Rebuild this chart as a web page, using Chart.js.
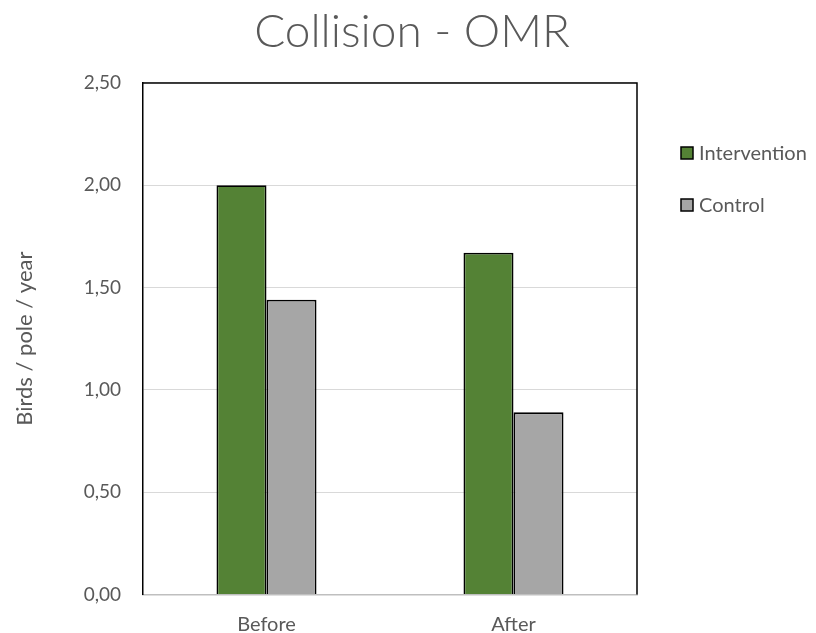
<!DOCTYPE html>
<html>
<head>
<meta charset="utf-8">
<script src="https://cdn.jsdelivr.net/npm/chart.js@4/dist/chart.umd.min.js"></script>
<style>
  html, body { margin: 0; padding: 0; background: #ffffff; }
  #wrap { width: 816px; height: 633px; }
</style>
</head>
<body>
<div id="wrap"><canvas id="chart" width="816" height="633"></canvas></div>
<script>
// Collision rates per pole and year, before and after the intervention
const categories = ['Before', 'After'];
const seriesNames = ['Intervention', 'Control'];
const interventionValues = [2.00, 1.67];
const controlValues = [1.44, 0.89];
const yTickValues = [0, 0.5, 1.0, 1.5, 2.0, 2.5];

const TEXT = '#595959';
const FONT = 'Lato';

// Legend drawn to the right of the plot area
const sideLegend = {
  id: 'sideLegend',
  afterDraw(chart) {
    const ctx = chart.ctx;
    const boxX = 681, textX = 699, firstY = 153, gap = 52, box = 12;
    ctx.save();
    ctx.font = '20px ' + FONT;
    ctx.textBaseline = 'middle';
    ctx.textAlign = 'left';
    chart.data.datasets.forEach((ds, i) => {
      const cy = firstY + i * gap;
      ctx.fillStyle = ds.backgroundColor;
      ctx.fillRect(boxX, cy - box / 2, box, box);
      ctx.strokeStyle = '#000000';
      ctx.lineWidth = 1.5;
      ctx.strokeRect(boxX, cy - box / 2, box, box);
      ctx.fillStyle = TEXT;
      ctx.fillText(ds.label, textX, cy + 1);
    });
    ctx.restore();
  }
};

// Black frame on the top and right edges of the plot area
const plotFrame = {
  id: 'plotFrame',
  afterDatasetsDraw(chart) {
    const { ctx, chartArea: a } = chart;
    ctx.save();
    ctx.strokeStyle = '#000000';
    ctx.lineWidth = 1.5;
    ctx.beginPath();
    ctx.moveTo(a.left, a.top);
    ctx.lineTo(a.right, a.top);
    ctx.lineTo(a.right, a.bottom);
    ctx.stroke();
    ctx.restore();
  }
};

new Chart(document.getElementById('chart'), {
  type: 'bar',
  data: {
    labels: categories,
    datasets: [
      {
        label: seriesNames[0],
        data: interventionValues,
        backgroundColor: '#548235',
        borderColor: '#000000',
        borderWidth: 1.8,
        categoryPercentage: 0.405,
        barPercentage: 1.0
      },
      {
        label: seriesNames[1],
        data: controlValues,
        backgroundColor: '#a6a6a6',
        borderColor: '#000000',
        borderWidth: 1.8,
        categoryPercentage: 0.405,
        barPercentage: 1.0
      }
    ]
  },
  options: {
    responsive: false,
    animation: false,
    devicePixelRatio: 1,
    layout: { padding: { left: 8, right: 0, top: 0, bottom: 0 } },
    plugins: {
      legend: { display: false },
      tooltip: { enabled: false },
      title: {
        display: true,
        text: 'Collision - OMR',
        color: TEXT,
        font: { family: FONT, size: 46, weight: 300 },
        padding: { top: 5, bottom: 22.7 }
      }
    },
    scales: {
      x: {
        grid: { display: false, drawTicks: false },
        border: { display: true, color: '#bfbfbf', width: 1.5 },
        ticks: {
          color: TEXT,
          font: { family: FONT, size: 20 },
          padding: 18
        },
        afterFit(scale) { scale.height = 38.5; }
      },
      y: {
        min: 0,
        max: 2.5,
        afterBuildTicks(scale) {
          scale.ticks = yTickValues.map(v => ({ value: v }));
        },
        grid: { color: '#d9d9d9', lineWidth: 1, drawTicks: false },
        border: { display: true, color: '#000000', width: 1.5 },
        ticks: {
          color: TEXT,
          font: { family: FONT, size: 19 },
          padding: 22,
          callback: v => Number(v).toFixed(2).replace('.', ',')
        },
        title: {
          display: true,
          text: 'Birds / pole / year',
          color: TEXT,
          font: { family: FONT, size: 22 },
          padding: { top: 4, bottom: 0 }
        },
        afterFit(scale) { scale.width = 135; }
      },
      side: {
        position: 'right',
        display: true,
        grid: { display: false, drawTicks: false },
        border: { display: false },
        ticks: { display: false },
        afterFit(scale) { scale.width = 179; }
      }
    }
  },
  plugins: [plotFrame, sideLegend]
});
</script>
</body>
</html>
